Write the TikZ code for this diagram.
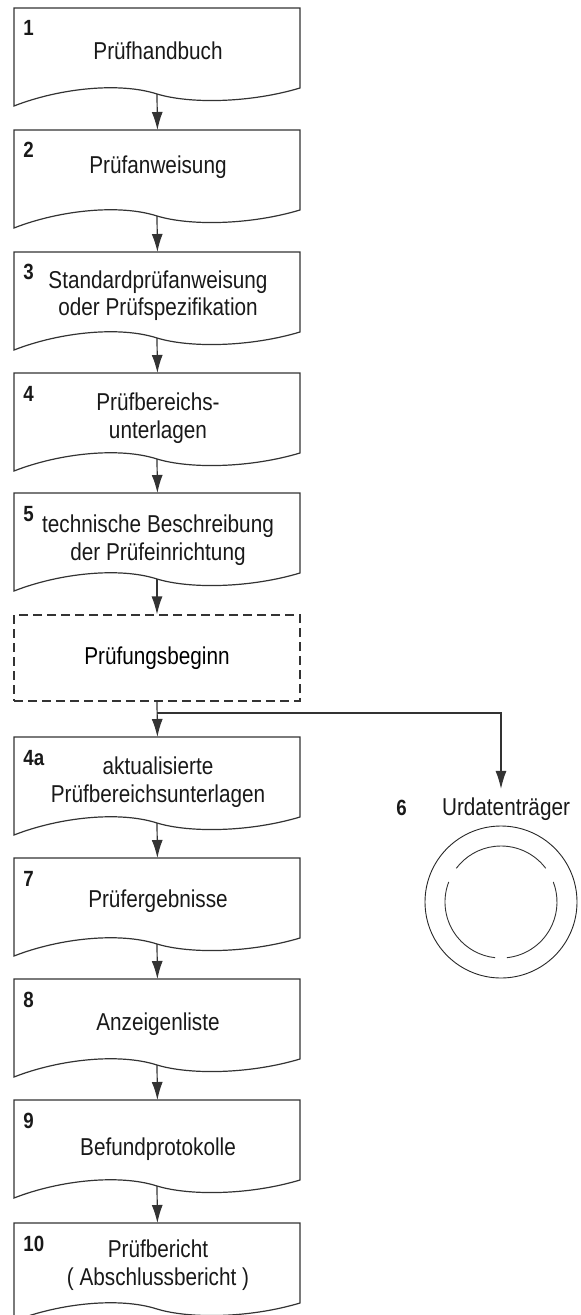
\documentclass[tikz,border=0pt]{standalone}
\usepackage{fontspec}
\setmainfont{Liberation Sans}[FakeStretch=0.85]
\usetikzlibrary{arrows.meta}

\tikzset{
  linie/.style={line width=0.6pt, draw=black!80},
  rahmen/.style={rectangle, minimum width=143pt, minimum height=49pt, inner sep=0pt, anchor=north west},
  start/.style={rectangle, linie, dash pattern=on 4.5pt off 2.5pt, minimum width=143pt, minimum height=43pt, inner sep=0pt},
  scheibe/.style={circle, draw=black!85, line width=0.45pt, minimum size=76pt, inner sep=0pt},
  nummer/.style={font=\fontsize{11}{13}\selectfont\bfseries, anchor=base west, inner sep=0pt, text=black!90},
  titel/.style={font=\fontsize{12.2}{13.9}\selectfont, align=center, anchor=base, inner sep=0pt, text=black!90},
  pfeil/.style={linie, -{Latex[length=9pt,width=5.5pt]}},
}

% Dokumentsymbol mit Wellenkante, Koordinate <name>-w am Fuss
\newcommand{\dokument}[1]{%
  \begin{scope}[shift={(#1.north west)}]
    \draw[linie] (0,-98) -- (0,0) -- (286,0) -- (286,-80)
      .. controls (236,-95) and (176,-96) .. (143,-86)
      .. controls (106,-74) and (46,-80) .. cycle;
    \coordinate (#1-w) at (143,-86);
  \end{scope}}

\begin{document}
\begin{tikzpicture}[x=0.5pt, y=0.5pt]
  \useasboundingbox (0,0) rectangle (580,-1315);
  \clip (0,0) rectangle (580,-1315);

  % Dokumente (\bl = Grundlinie der letzten Zeile)
  \foreach \n/\t/\nr/\bl/\txt in {
      d1/8/1/52/{Prüfhandbuch},
      d2/130/2/44/{Prüfanweisung},
      d3/252/3/64/{Standardprüfanweisung\\oder Prüfspezifikation},
      d4/373/4/65/{Prüfbereichs-\\unterlagen},
      d5/493/5/67/{technische Beschreibung\\der Prüfeinrichtung},
      d4a/737/4a/65/{aktualisierte\\Prüfbereichsunterlagen},
      d7/858/7/49/{Prüfergebnisse},
      d8/979/8/51/{Anzeigenliste},
      d9/1100/9/55/{Befundprotokolle},
      d10/1223/10/62/{Prüfbericht\\( Abschlussbericht )}}{
    \node[rahmen] (\n) at (14,-\t) {};
    \dokument{\n}
    \node[nummer] (\n-nr) at (23,-\t-28) {\nr};
    \node[titel] (\n-t) at (158,-\t-\bl) {\txt};
  }

  \node[start] (beginn) at (157,-658) {\fontsize{12.2}{13.9}\selectfont Prüfungsbeginn};

  % Urdatentraeger
  \node[scheibe] (traeger) at (501,-902) {};
  \draw[linie, line width=0.45pt] (traeger.center) ++(37:28pt) arc[start angle=37, end angle=143, radius=28pt];
  \draw[linie, line width=0.45pt] (traeger.center) ++(159:28pt) arc[start angle=159, end angle=264, radius=28pt];
  \draw[linie, line width=0.45pt] (traeger.center) ++(276:28pt) arc[start angle=276, end angle=381, radius=28pt];
  \node[titel, inner sep=4pt] (urdaten) at (506,-815) {Urdatenträger};
  \node[nummer] (nr6) at (396,-815) {6};

  % Pfeile
  \foreach \von/\nach in {d1/d2, d2/d3, d3/d4, d4/d5, d4a/d7, d7/d8, d8/d9, d9/d10}
    \draw[pfeil] (\von-w) -- (\nach.north);
  \draw[pfeil] (d5-w) -- (beginn.north);
  \draw[pfeil] (beginn.south) -- (d4a.north);
  \coordinate (abzweig) at (157,-713);
  \draw[pfeil] (abzweig) -| (traeger.north |- urdaten.north);
\end{tikzpicture}
\end{document}
